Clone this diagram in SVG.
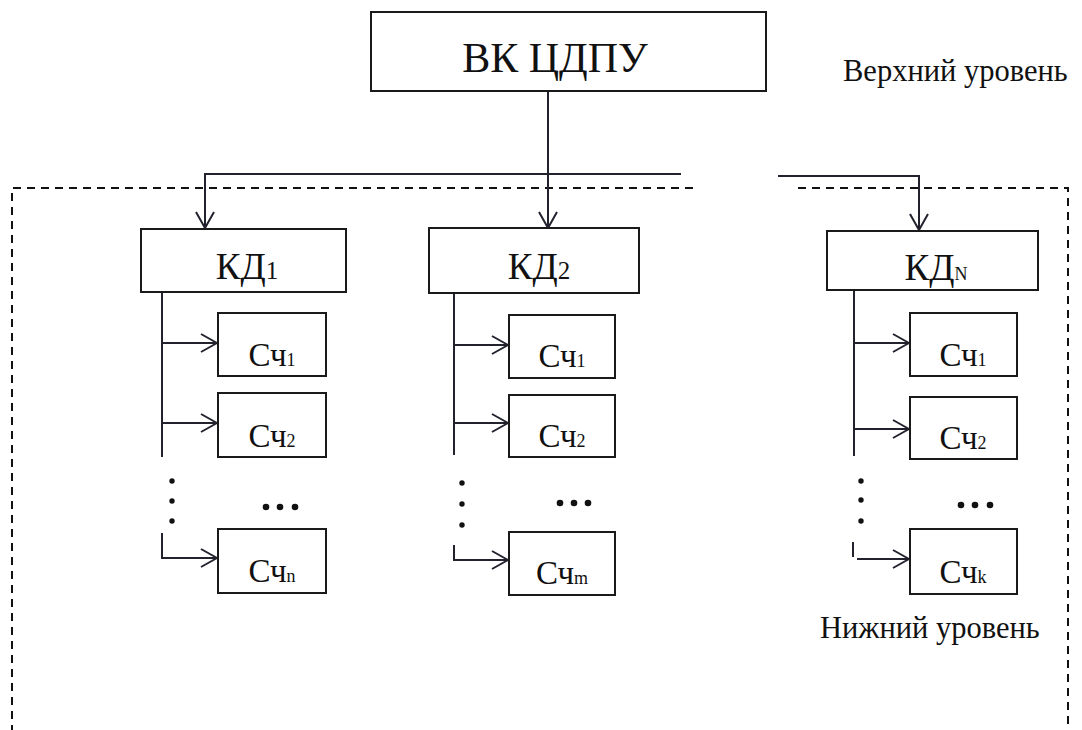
<svg xmlns="http://www.w3.org/2000/svg" width="1082" height="730" viewBox="0 0 1082 730">
  <style>
    .box { fill: #fff; stroke: #1a1a1a; stroke-width: 2; }
    .ln { fill: none; stroke: #22222e; stroke-width: 2; }
    .dash { fill: none; stroke: #111; stroke-width: 2; stroke-dasharray: 8 6; }
    .t { font-family: "Liberation Serif", "Times New Roman", serif; fill: #111; }
    .big { font-size: 42px; }
    .kd { font-size: 37px; }
    .sc { font-size: 33px; }
    .lbl { font-size: 30.5px; }
    .dot { fill: #111; }
  </style>
  <defs>
    <marker id="arr" viewBox="0 0 18 20" refX="17" refY="10" markerWidth="18" markerHeight="20" markerUnits="userSpaceOnUse" orient="auto">
      <path d="M1,1 L17,10 L1,19" fill="none" stroke="#22222e" stroke-width="2"/>
    </marker>
  </defs>

  <g id="boundary">
    <path class="dash" d="M693,188 H12 V735"/>
    <path class="dash" d="M798,188 H1068 V735"/>
  </g>

  <g id="connectors">
    <line class="ln" x1="548" y1="91" x2="548" y2="228" marker-end="url(#arr)"/>
    <line class="ln" x1="204" y1="174" x2="681" y2="174"/>
    <line class="ln" x1="205" y1="174" x2="205" y2="228" marker-end="url(#arr)"/>
    <polyline class="ln" points="778,176 919,176 919,230" marker-end="url(#arr)"/>

    <line class="ln" x1="162" y1="292" x2="162" y2="457"/>
    <line class="ln" x1="162" y1="343" x2="217" y2="343" marker-end="url(#arr)"/>
    <line class="ln" x1="162" y1="423" x2="217" y2="423" marker-end="url(#arr)"/>
    <polyline class="ln" points="162,533 162,558 217,558" marker-end="url(#arr)"/>

    <line class="ln" x1="454" y1="293" x2="454" y2="455"/>
    <line class="ln" x1="454" y1="345" x2="508" y2="345" marker-end="url(#arr)"/>
    <line class="ln" x1="454" y1="423" x2="508" y2="423" marker-end="url(#arr)"/>
    <polyline class="ln" points="454,545 454,560 508,560" marker-end="url(#arr)"/>

    <line class="ln" x1="854" y1="290" x2="854" y2="456"/>
    <line class="ln" x1="854" y1="343" x2="909" y2="343" marker-end="url(#arr)"/>
    <line class="ln" x1="854" y1="429" x2="909" y2="429" marker-end="url(#arr)"/>
    <line class="ln" x1="853" y1="542" x2="853" y2="557"/>
    <line class="ln" x1="857" y1="559" x2="909" y2="559" marker-end="url(#arr)"/>
  </g>

  <g id="ellipsis">
    <circle class="dot" cx="172" cy="481" r="2.7"/>
    <circle class="dot" cx="172" cy="501" r="2.7"/>
    <circle class="dot" cx="172" cy="521" r="2.7"/>
    <circle class="dot" cx="266" cy="507" r="3.3"/>
    <circle class="dot" cx="280" cy="507" r="3.3"/>
    <circle class="dot" cx="295" cy="507" r="3.3"/>

    <circle class="dot" cx="462" cy="483" r="2.7"/>
    <circle class="dot" cx="462" cy="504" r="2.7"/>
    <circle class="dot" cx="462" cy="525" r="2.7"/>
    <circle class="dot" cx="560" cy="503" r="3.3"/>
    <circle class="dot" cx="574" cy="503" r="3.3"/>
    <circle class="dot" cx="588" cy="503" r="3.3"/>

    <circle class="dot" cx="861" cy="481" r="2.7"/>
    <circle class="dot" cx="861" cy="500" r="2.7"/>
    <circle class="dot" cx="861" cy="521" r="2.7"/>
    <circle class="dot" cx="961" cy="505" r="3.3"/>
    <circle class="dot" cx="975" cy="505" r="3.3"/>
    <circle class="dot" cx="990" cy="505" r="3.3"/>
  </g>

  <g id="vk">
    <rect class="box" x="371" y="12" width="395" height="79"/>
    <text class="t big" x="555" y="72" text-anchor="middle">ВК ЦДПУ</text>
  </g>

  <g id="kd1">
    <rect class="box" x="141" y="229" width="205" height="63"/>
    <text class="t kd" x="247" y="279" text-anchor="middle">КД<tspan font-size="25">1</tspan></text>
  </g>
  <g id="kd2">
    <rect class="box" x="429" y="228" width="210" height="65"/>
    <text class="t kd" x="539" y="279" text-anchor="middle">КД<tspan font-size="25">2</tspan></text>
  </g>
  <g id="kdN">
    <rect class="box" x="827" y="231" width="211" height="59"/>
    <text class="t kd" x="936" y="280" text-anchor="middle">КД<tspan font-size="18">N</tspan></text>
  </g>

  <g id="c1s1">
    <rect class="box" x="218" y="313" width="108" height="63"/>
    <text class="t sc" x="272" y="366" text-anchor="middle">Сч<tspan font-size="18">1</tspan></text>
  </g>
  <g id="c1s2">
    <rect class="box" x="218" y="393" width="108" height="64"/>
    <text class="t sc" x="272" y="447" text-anchor="middle">Сч<tspan font-size="18">2</tspan></text>
  </g>
  <g id="c1sn">
    <rect class="box" x="218" y="529" width="108" height="64"/>
    <text class="t sc" x="272" y="582" text-anchor="middle">Сч<tspan font-size="18">n</tspan></text>
  </g>

  <g id="c2s1">
    <rect class="box" x="509" y="315" width="106" height="63"/>
    <text class="t sc" x="562" y="367" text-anchor="middle">Сч<tspan font-size="18">1</tspan></text>
  </g>
  <g id="c2s2">
    <rect class="box" x="509" y="395" width="106" height="62"/>
    <text class="t sc" x="562" y="447" text-anchor="middle">Сч<tspan font-size="18">2</tspan></text>
  </g>
  <g id="c2sm">
    <rect class="box" x="509" y="532" width="106" height="63"/>
    <text class="t sc" x="562" y="584" text-anchor="middle">Сч<tspan font-size="18">m</tspan></text>
  </g>

  <g id="cNs1">
    <rect class="box" x="910" y="313" width="107" height="63"/>
    <text class="t sc" x="963" y="366" text-anchor="middle">Сч<tspan font-size="18">1</tspan></text>
  </g>
  <g id="cNs2">
    <rect class="box" x="910" y="397" width="107" height="62"/>
    <text class="t sc" x="963" y="449" text-anchor="middle">Сч<tspan font-size="18">2</tspan></text>
  </g>
  <g id="cNsk">
    <rect class="box" x="910" y="529" width="107" height="65"/>
    <text class="t sc" x="963" y="583" text-anchor="middle">Сч<tspan font-size="18">k</tspan></text>
  </g>

  <g id="labels">
    <text class="t lbl" x="843" y="81">Верхний уровень</text>
    <text class="t lbl" x="820" y="638">Нижний уровень</text>
  </g>
</svg>
